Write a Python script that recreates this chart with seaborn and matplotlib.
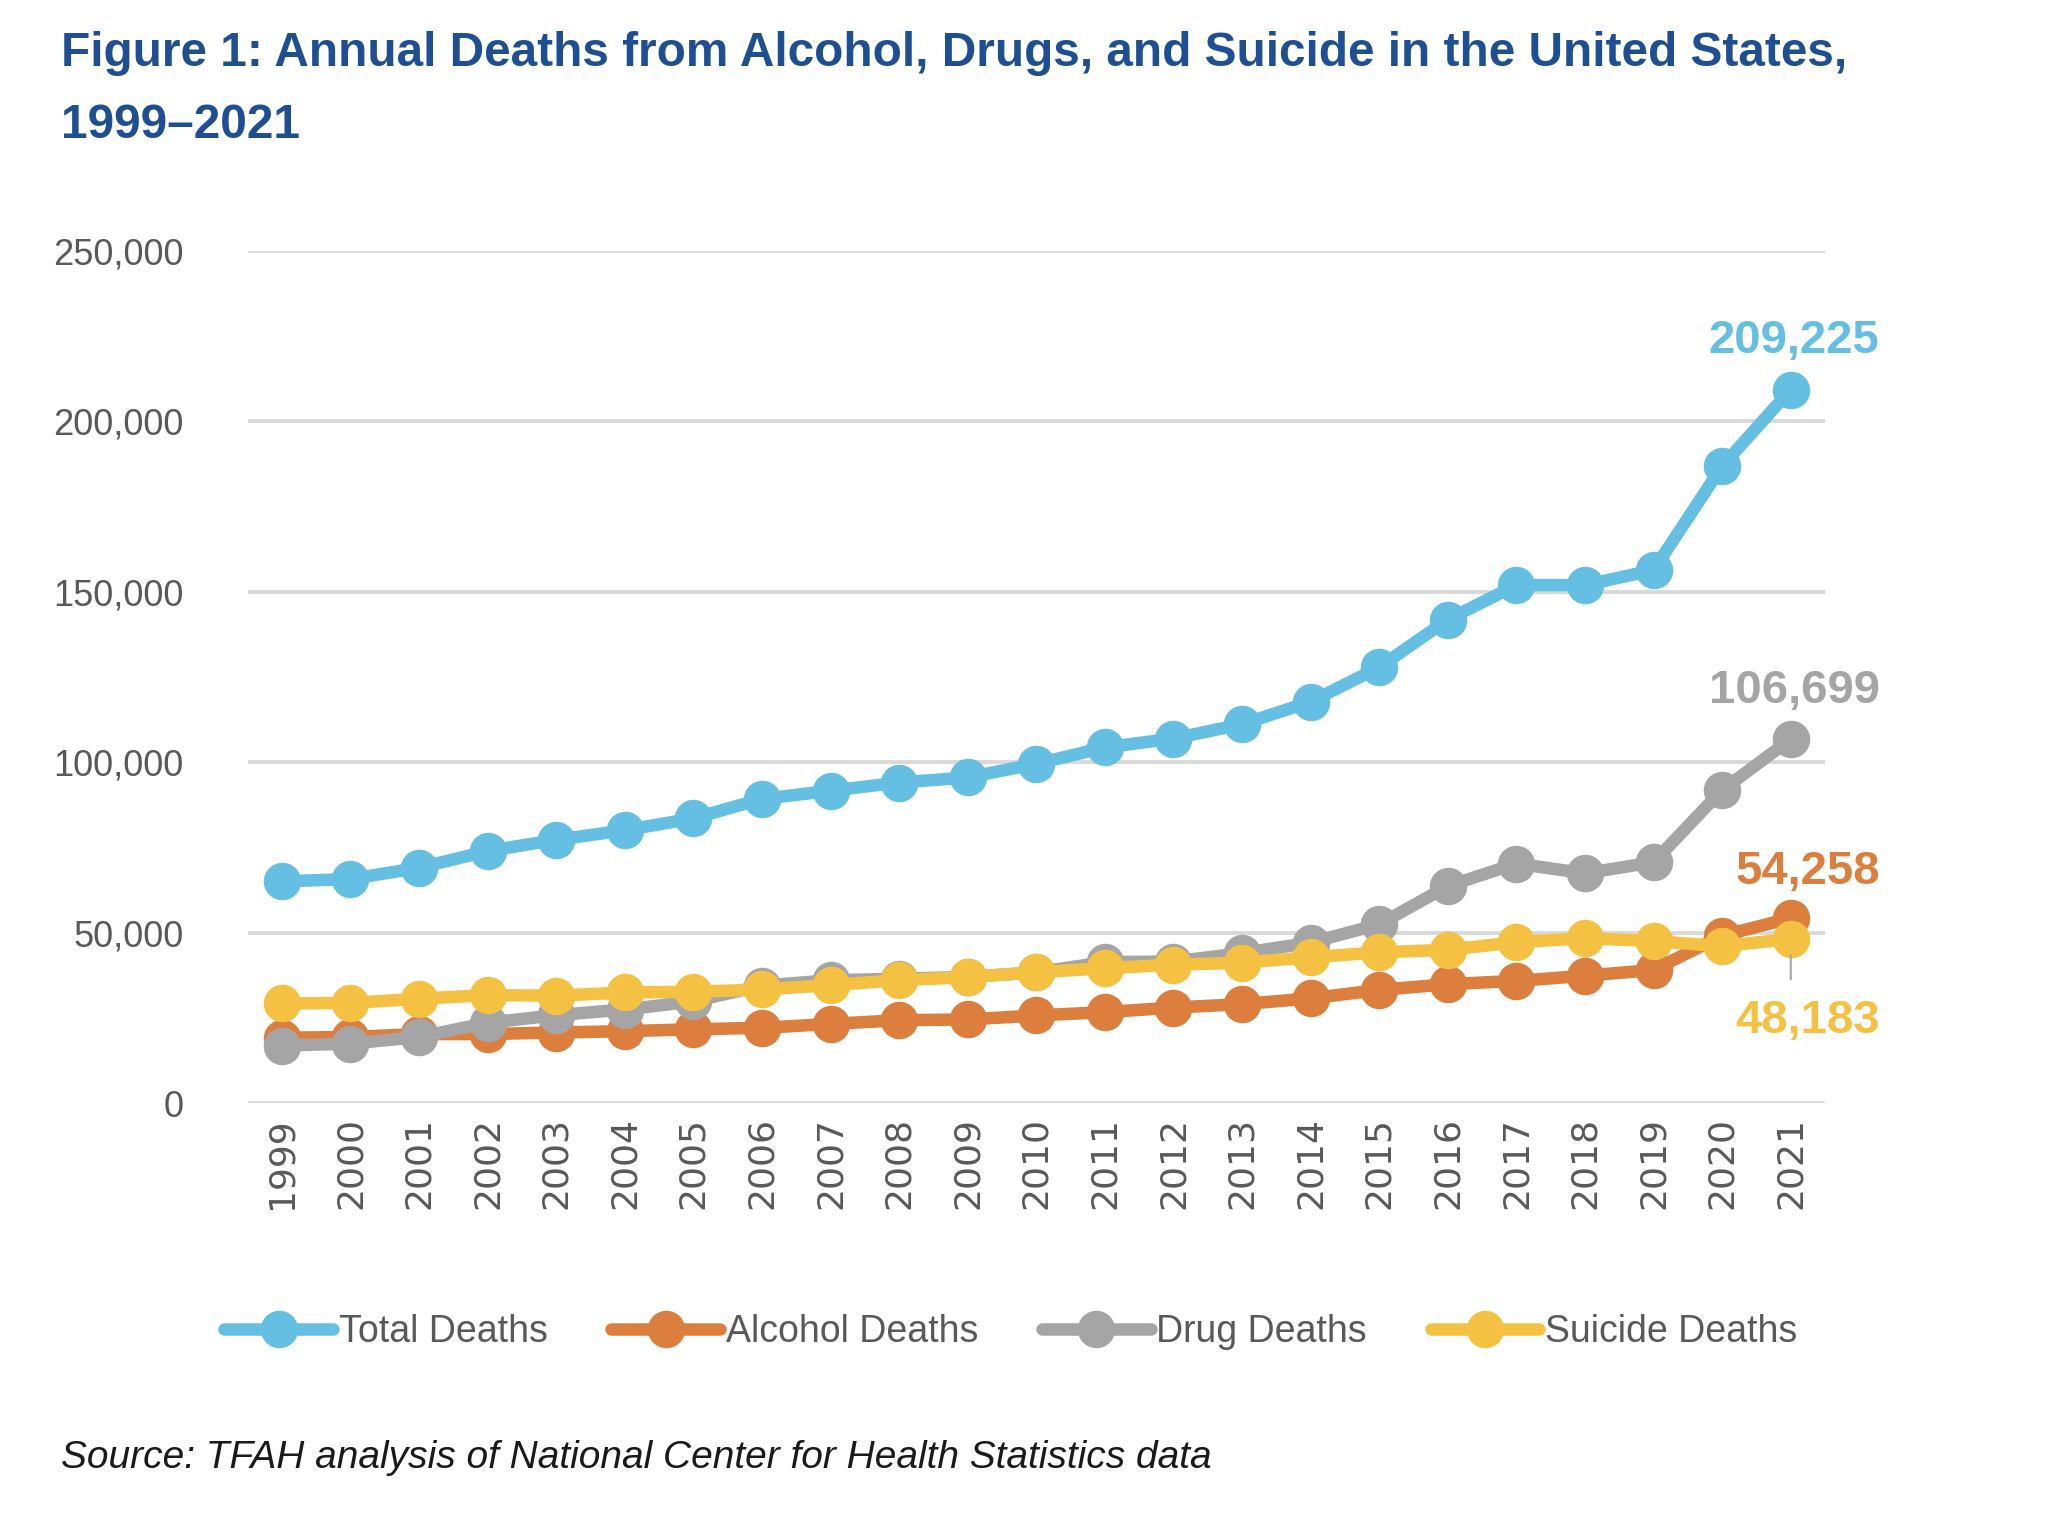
import pandas as pd
import matplotlib
matplotlib.use("Agg")
import matplotlib.pyplot as plt
import seaborn as sns

years = list(range(1999, 2022))
total_deaths = [65000, 65700, 69000, 73900, 77200, 80000, 83500, 89200, 91600, 94000,
                95500, 99500, 104300, 106900, 111100, 117700, 127800, 141800, 151900,
                151900, 156300, 186800, 209225]
alcohol_deaths = [19171, 19358, 20242, 20231, 20687, 21081, 21634, 22073, 23199, 24297,
                  24518, 25692, 26654, 28001, 29001, 30722, 33171, 34865, 35823, 37329,
                  39043, 49061, 54258]
drug_deaths = [16849, 17415, 19394, 23518, 25785, 27424, 29813, 34425, 36010, 36450,
               37004, 38329, 41340, 41502, 43982, 47055, 52404, 63632, 70237, 67367,
               70630, 91799, 106699]
suicide_deaths = [29199, 29350, 30622, 31655, 31484, 32439, 32637, 33300, 34598, 36035,
                  36909, 38364, 39518, 40600, 41149, 42773, 44193, 44965, 47173, 48344,
                  47511, 45979, 48183]
series_names = ["Total Deaths", "Alcohol Deaths", "Drug Deaths", "Suicide Deaths"]
colors = {"Total Deaths": "#65BFE3", "Alcohol Deaths": "#DC7E3D",
          "Drug Deaths": "#A5A5A5", "Suicide Deaths": "#F4C143"}

df = pd.concat([
    pd.DataFrame({"Year": years, "Deaths": vals, "Series": name})
    for name, vals in zip(series_names, [total_deaths, alcohol_deaths, drug_deaths, suicide_deaths])
])

sns.set_style("white")
plt.rcParams["font.family"] = ["Liberation Sans", "DejaVu Sans"]

fig = plt.figure(figsize=(20.46, 15.32), dpi=100)
ax = fig.add_axes([0.121, 0.280, 0.771, 0.5564])

sns.lineplot(data=df, x="Year", y="Deaths", hue="Series", hue_order=series_names,
             palette=colors, marker="o", markersize=27, markeredgewidth=0,
             linewidth=9, legend=False, ax=ax)
for ln in ax.lines:
    ln.set_solid_joinstyle("round")

ax.set_xlim(1998.5, 2021.5)
ax.set_ylim(0, 250000)
ax.set_xticks(years)
ax.set_xticklabels([str(y) for y in years], rotation=90, fontsize=26,
                   color="#595959", family=["DejaVu Sans"])
ax.set_yticks(range(0, 250001, 50000))
ax.set_yticklabels([f"{v:,}" for v in range(0, 250001, 50000)], fontsize=26, color="#595959")
ax.tick_params(axis="y", length=0, pad=46)
ax.tick_params(axis="x", length=0, pad=10)
ax.set_xlabel("")
ax.set_ylabel("")
ax.grid(axis="y", color="#D9D9D9", linewidth=2.8)
ax.set_axisbelow(True)
for s in ax.spines.values():
    s.set_visible(False)

# end labels
lab_font = dict(fontsize=34, fontweight="bold", ha="center", va="center", clip_on=False)
ax.text(2021.05, 223500, f"{total_deaths[-1]:,}", color=colors["Total Deaths"], **lab_font)
ax.text(2021.05, 120800, f"{drug_deaths[-1]:,}", color=colors["Drug Deaths"], **lab_font)
ax.text(2021.25, 67800, f"{alcohol_deaths[-1]:,}", color=colors["Alcohol Deaths"], **lab_font)
ax.text(2021.25, 24200, f"{suicide_deaths[-1]:,}", color=colors["Suicide Deaths"], **lab_font)
ax.annotate("", xy=(2021, suicide_deaths[-1] - 4000), xytext=(2021, 35500),
            arrowprops=dict(arrowstyle="-", color="#A5A5A5", lw=1.5))

handles = ax.lines[:4]
leg = fig.legend(handles, series_names, loc="center", bbox_to_anchor=(0.494, 0.1305),
                 ncol=4, frameon=False, fontsize=27, handlelength=2.9,
                 handletextpad=0.15, columnspacing=1.7)
for t in leg.get_texts():
    t.set_color("#595959")
for h in leg.legend_handles:
    h.set_solid_capstyle("round")

# title, squeezed to the reference width
title_font = dict(fontsize=33, fontweight="bold", color="#1F4F93", va="center", ha="left")
t1 = fig.text(0.030, 0.965, "Figure 1: Annual Deaths from Alcohol, Drugs, and Suicide in the United States,",
              **title_font)
t2 = fig.text(0.030, 0.918, "1999\u20132021", **title_font)
fig.canvas.draw()
w = t1.get_window_extent().width
fs = 33 * 1789 / w
t1.set_fontsize(fs)
t2.set_fontsize(fs)

fig.text(0.030, 0.048, "Source: TFAH analysis of National Center for Health Statistics data",
         fontsize=28, style="italic", color="#1A1A1A", va="center", ha="left")

fig.savefig("out.png", dpi=100)
